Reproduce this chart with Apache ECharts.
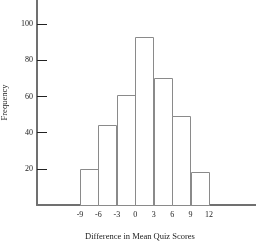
<!DOCTYPE html>
<html><head><meta charset="utf-8">
<script src="https://cdn.jsdelivr.net/npm/echarts@6/dist/echarts.min.js"></script>
<style>html,body{margin:0;padding:0;background:#fff}#c{width:256px;height:242px}</style>
</head><body><div id="c"></div>
<script>
var binStarts = [-9, -6, -3, 0, 3, 6, 9];
var binWidth = 3;
var frequencies = [20, 44, 61, 93, 70, 49, 18];
var xTickLabels = [-9, -6, -3, 0, 3, 6, 9, 12];
var yTickLabels = [20, 40, 60, 80, 100];
var xTitle = 'Difference in Mean Quiz Scores';
var yTitle = 'Frequency';

var data = binStarts.map(function (s, i) { return [s, s + binWidth, frequencies[i]]; });
var font = 'Liberation Serif';
var chart = echarts.init(document.getElementById('c'), null, {renderer: 'canvas'});
chart.setOption({
  animation: false,
  backgroundColor: '#fff',
  grid: {left: 37, right: 0, top: 0, bottom: 37, containLabel: false, outerBoundsMode: 'none'},
  xAxis: {
    type: 'value', min: -16, max: 19.65,
    axisLine: {show: true, onZero: false, lineStyle: {color: '#707070', width: 2}},
    axisTick: {show: false},
    splitLine: {show: false},
    axisLabel: {customValues: xTickLabels, margin: 6, fontFamily: font, fontSize: 8, color: '#222'}
  },
  yAxis: {
    type: 'value', min: 0, max: 113.3,
    name: yTitle, nameLocation: 'middle', nameGap: 28,
    nameTextStyle: {fontFamily: font, fontSize: 8.5, color: '#222'},
    axisLine: {show: true, onZero: false, lineStyle: {color: '#707070', width: 2}},
    axisTick: {show: true, inside: true, length: 10, customValues: yTickLabels, lineStyle: {color: '#222', width: 1}},
    splitLine: {show: false},
    axisLabel: {customValues: yTickLabels, margin: 4, fontFamily: font, fontSize: 8, color: '#222'}
  },
  graphic: [{
    type: 'text', x: 140, y: 237,
    style: {text: xTitle, fontFamily: font, fontSize: 8.5, fill: '#222', align: 'center', verticalAlign: 'middle'}
  }],
  series: [{
    type: 'custom',
    data: data,
    renderItem: function (params, api) {
      var p0 = api.coord([api.value(0), api.value(2)]);
      var p1 = api.coord([api.value(1), 0]);
      return {
        type: 'rect',
        shape: {x: Math.round(p0[0]) + 0.5, y: Math.round(p0[1]) + 0.5, width: Math.round(p1[0] - p0[0]), height: Math.round(p1[1] - p0[1])},
        style: {fill: '#fff', stroke: '#8a8a8a', lineWidth: 1}
      };
    }
  }]
});
</script></body></html>
